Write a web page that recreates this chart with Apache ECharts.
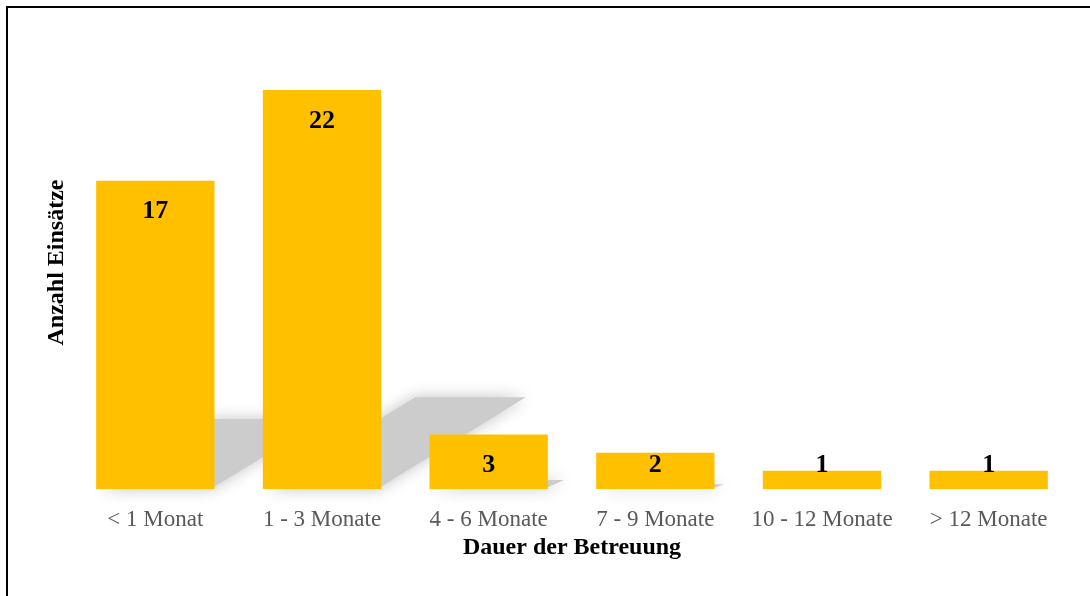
<!DOCTYPE html>
<html>
<head>
<meta charset="utf-8">
<script src="https://cdn.jsdelivr.net/npm/echarts@6/dist/echarts.min.js"></script>
<style>
  html, body { margin: 0; padding: 0; background: #fff; }
  #main { width: 1090px; height: 596px; }
</style>
</head>
<body>
<div id="main"></div>
<script>
// Daten
var kategorien = ['< 1 Monat', '1 - 3 Monate', '4 - 6 Monate', '7 - 9 Monate', '10 - 12 Monate', '> 12 Monate'];
var einsaetze = [17, 22, 3, 2, 1, 1];

var serif = "'Times New Roman', 'Liberation Serif', serif";
var myChart = echarts.init(document.getElementById('main'));

// kleine Balken: Beschriftung unten, sonst oben innen
var balkenDaten = einsaetze.map(function (v) {
  var klein = v <= 3;
  return {
    value: v,
    label: klein ? { position: 'insideBottom', distance: 11 } : { position: 'insideTop', distance: 18 }
  };
});

var option = {
  animation: false,
  backgroundColor: '#ffffff',
  grid: { left: 72, right: 18, top: 90, bottom: 107 },
  xAxis: {
    type: 'category',
    data: kategorien,
    axisLine: { show: false },
    axisTick: { show: false },
    axisLabel: { color: '#595959', fontFamily: serif, fontSize: 23, margin: 19, interval: 0 },
    name: 'Dauer der Betreuung',
    nameLocation: 'middle',
    nameGap: 44,
    nameTextStyle: { color: '#000', fontFamily: serif, fontSize: 24, fontWeight: 'bold' }
  },
  yAxis: {
    type: 'value',
    min: 0,
    max: 22,
    show: true,
    axisLine: { show: false },
    axisTick: { show: false },
    axisLabel: { show: false },
    splitLine: { show: false },
    name: 'Anzahl Einsätze',
    nameLocation: 'middle',
    nameGap: 3,
    nameRotate: 90,
    nameTextStyle: { color: '#000', fontFamily: serif, fontSize: 24, fontWeight: 'bold', padding: [0, 0, 0, 54] }
  },
  series: [
    {
      // Schatten hinter den Balken
      type: 'custom',
      z: 1,
      silent: true,
      data: einsaetze.map(function (v, i) { return [i, v]; }),
      renderItem: function (params, api) {
        var idx = api.value(0);
        var basis = api.coord([idx, 0]);
        var oben = api.coord([idx, api.value(1)]);
        var w = api.size([1, 0])[0] * 0.71;
        var h = (basis[1] - oben[1]) * 0.24;
        var dx = h * 1.55;
        var l = basis[0] - w / 2, r = basis[0] + w / 2;
        return {
          type: 'polygon',
          shape: { points: [[l + 4, basis[1]], [r - 4, basis[1]], [r + dx - 4, basis[1] - h + 4], [l + dx + 4, basis[1] - h + 4]] },
          style: { fill: '#cccccc', shadowBlur: 16, shadowColor: 'rgba(195,195,195,1)' }
        };
      }
    },
    {
      type: 'bar',
      z: 3,
      barWidth: '71%',
      data: balkenDaten,
      itemStyle: { color: '#FFC000' },
      label: {
        show: true,
        color: '#000',
        fontFamily: serif,
        fontSize: 26,
        fontWeight: 'bold'
      }
    }
  ],
  graphic: [
    {
      type: 'rect',
      silent: true,
      z: 10,
      shape: { x: 7, y: 7, width: 1200, height: 700 },
      style: { fill: 'none', stroke: '#000', lineWidth: 2 }
    }
  ]
};

myChart.setOption(option);
</script>
</body>
</html>
